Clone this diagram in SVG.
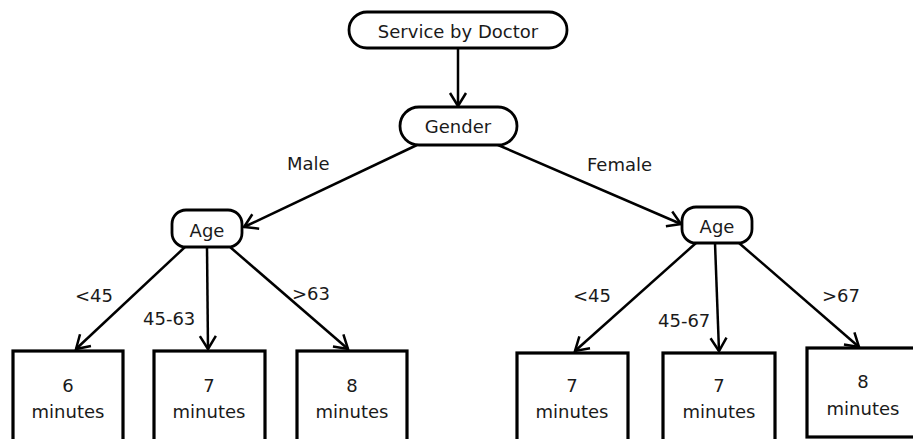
<svg xmlns="http://www.w3.org/2000/svg" width="913" height="439" viewBox="0 0 913 439">
<style>
text{font-family:"DejaVu Sans","Liberation Sans",sans-serif;font-size:18px;fill:#1a1a1a;text-anchor:middle}
.n{fill:#fff;stroke:#000;stroke-width:2.8}
.b{fill:#fff;stroke:#000;stroke-width:3.2}
.c{stroke:#000;stroke-width:2.5;fill:none;marker-end:url(#a)}
.l{text-anchor:start}
</style>
<defs>
<marker id="a" markerUnits="userSpaceOnUse" markerWidth="20" markerHeight="20" viewBox="-14 -10 16 20" refX="0" refY="0" orient="auto">
<path d="M-13,-8 L0,0 L-13,8" fill="none" stroke="#000" stroke-width="2.5"/>
</marker>
</defs>
<rect width="913" height="439" fill="#fff"/>
<g id="connectors">
<line class="c" x1="458" y1="48" x2="458" y2="106"/>
<line class="c" x1="417" y1="145" x2="244" y2="227"/>
<line class="c" x1="498" y1="145" x2="681" y2="224"/>
<line class="c" x1="185" y1="247" x2="76" y2="349"/>
<line class="c" x1="207" y1="247" x2="208" y2="349"/>
<line class="c" x1="230" y1="247" x2="348" y2="349"/>
<line class="c" x1="696" y1="243" x2="575" y2="351"/>
<line class="c" x1="715" y1="243" x2="719" y2="351"/>
<line class="c" x1="739" y1="243" x2="859" y2="347"/>
<text x="287" y="170" class="l">Male</text>
<text x="587" y="171" class="l">Female</text>
<text x="75" y="302" class="l">&lt;45</text>
<text x="143" y="325" class="l">45-63</text>
<text x="292" y="300" class="l">&gt;63</text>
<text x="573" y="302" class="l">&lt;45</text>
<text x="658" y="327" class="l">45-67</text>
<text x="822" y="302" class="l">&gt;67</text>
</g>
<g id="root">
<rect class="n" x="349" y="12" width="218" height="36" rx="18"/>
<text x="458" y="38">Service by Doctor</text>
</g>
<g id="gender">
<rect class="n" x="400" y="107" width="117" height="38" rx="19"/>
<text x="458" y="133">Gender</text>
</g>
<g id="age-male">
<rect class="n" x="172" y="210" width="70" height="37" rx="14"/>
<text x="207" y="237">Age</text>
</g>
<g id="age-female">
<rect class="n" x="682" y="207" width="70" height="36" rx="14"/>
<text x="717" y="233">Age</text>
</g>
<g id="m1">
<rect class="b" x="13" y="351" width="110" height="100"/>
<text x="68" y="392">6</text>
<text x="68" y="418">minutes</text>
</g>
<g id="m2">
<rect class="b" x="154" y="351" width="111" height="100"/>
<text x="209" y="392">7</text>
<text x="209" y="418">minutes</text>
</g>
<g id="m3">
<rect class="b" x="297" y="351" width="110" height="100"/>
<text x="352" y="392">8</text>
<text x="352" y="418">minutes</text>
</g>
<g id="f1">
<rect class="b" x="517" y="353" width="111" height="100"/>
<text x="572" y="392">7</text>
<text x="572" y="418">minutes</text>
</g>
<g id="f2">
<rect class="b" x="663" y="353" width="112" height="100"/>
<text x="719" y="392">7</text>
<text x="719" y="418">minutes</text>
</g>
<g id="f3">
<rect class="b" x="807" y="348" width="112" height="89"/>
<text x="863" y="388">8</text>
<text x="863" y="415">minutes</text>
</g>
</svg>
